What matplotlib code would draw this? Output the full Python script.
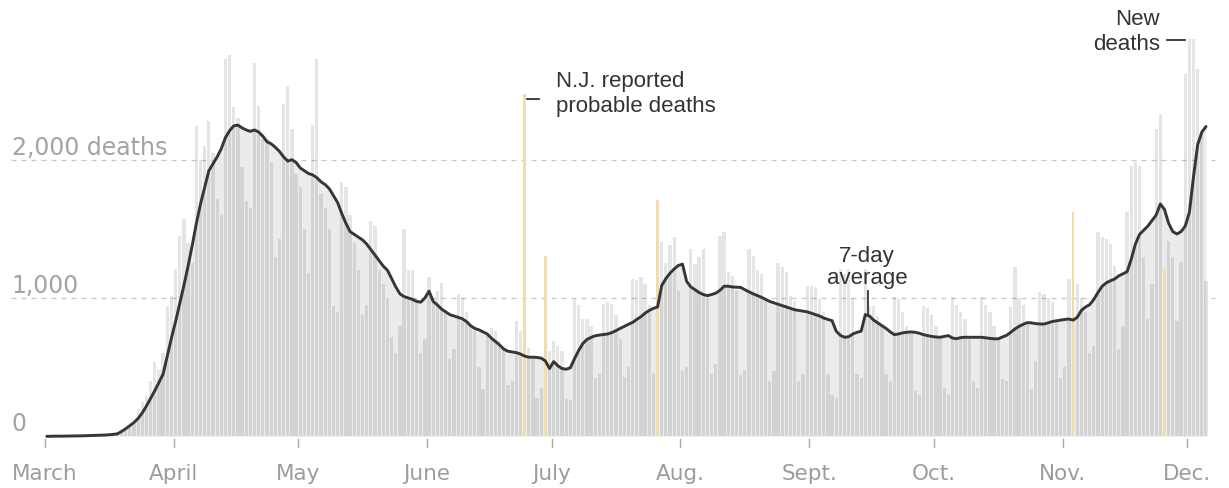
import matplotlib
matplotlib.use("Agg")
import matplotlib.pyplot as plt
import numpy as np

# ---------------- data ----------------
# daily new deaths, one value per day starting March 1
deaths = [
    0, 1, 1, 2, 1, 2, 3, 3, 4, 5,
    7, 9, 10, 12, 14, 18, 24, 30, 45, 55,
    60, 90, 200, 250, 290, 400, 540, 480, 600, 942,
    1015, 1210, 1450, 1570, 1400, 1250, 2245, 2000, 2100, 2280,
    2050, 1716, 1600, 2728, 2760, 2380, 2300, 1950, 1700, 1650,
    2700, 2390, 2150, 2150, 1980, 1300, 1430, 2400, 2530, 2220,
    1900, 1800, 1500, 1180, 2250, 2730, 1750, 1650, 1500, 944,
    900, 1840, 1800, 1600, 1400, 1200, 880, 950, 1560, 1520,
    1200, 1100, 1000, 720, 600, 800, 1500, 1200, 1200, 1000,
    600, 700, 1150, 1000, 1050, 1110, 900, 560, 630, 1030,
    1000, 900, 800, 760, 500, 340, 750, 780, 760, 690,
    650, 370, 400, 836, 760, 2475, 640, 560, 280, 350,
    1306, 620, 690, 650, 620, 270, 260, 990, 950, 850,
    850, 800, 420, 450, 960, 970, 960, 880, 700, 430,
    500, 1137, 1130, 1150, 1100, 950, 460, 1711, 1402, 1250,
    1380, 1438, 1053, 470, 500, 1354, 1245, 1300, 1354, 1000,
    450, 520, 1450, 1475, 1185, 1160, 1050, 440, 480, 1354,
    1306, 1200, 1173, 1000, 400, 470, 1250, 1221, 1185, 1017,
    980, 400, 450, 1089, 1089, 1080, 993, 900, 450, 300,
    280, 1209, 1170, 1209, 1000, 450, 420, 1209, 944, 944,
    870, 800, 450, 400, 1005, 990, 900, 800, 750, 330,
    300, 944, 930, 880, 800, 700, 350, 300, 1005, 950,
    900, 850, 700, 400, 350, 1005, 950, 900, 800, 700,
    414, 400, 937, 1225, 1000, 950, 820, 343, 546, 1041,
    1029, 1000, 970, 850, 420, 500, 1137, 1619, 1100, 1000,
    900, 600, 650, 1474, 1440, 1426, 1390, 1233, 631, 800,
    1619, 1957, 1981, 1957, 1300, 848, 1100, 2221, 2329, 1209,
    1414, 1300, 837, 1258, 2620, 2873, 2873, 2656, 2200, 1125,
]

# 7-day average line as drawn in the reference
avg7 = [
    0, 0, 1, 1, 1, 2, 2, 3, 3, 4,
    5, 6, 7, 8, 9, 11, 14, 18, 35, 55,
    77, 100, 130, 170, 220, 275, 330, 390, 450, 580,
    710, 830, 960, 1090, 1230, 1380, 1540, 1680, 1800, 1920,
    1970, 2020, 2080, 2160, 2210, 2245, 2250, 2230, 2215, 2205,
    2215, 2200, 2170, 2130, 2115, 2090, 2060, 2020, 1990, 2000,
    1980, 1940, 1920, 1900, 1890, 1870, 1840, 1820, 1790, 1740,
    1690, 1610, 1540, 1480, 1460, 1440, 1420, 1390, 1350, 1310,
    1270, 1230, 1200, 1140, 1080, 1030, 1010, 1000, 990, 975,
    970, 1000, 1050, 975, 950, 920, 900, 880, 870, 860,
    850, 830, 800, 780, 770, 755, 740, 710, 685, 660,
    630, 615, 610, 605, 595, 580, 572, 572, 570, 565,
    545, 490, 540, 510, 490, 485, 495, 560, 620, 670,
    700, 715, 727, 732, 736, 740, 750, 764, 780, 795,
    810, 824, 845, 865, 890, 910, 925, 935, 1090, 1140,
    1180, 1210, 1235, 1245, 1120, 1080, 1060, 1040, 1025, 1017,
    1025, 1035, 1055, 1085, 1085, 1080, 1078, 1077, 1060, 1045,
    1030, 1018, 1005, 990, 975, 965, 955, 945, 935, 925,
    915, 910, 905, 900, 890, 880, 870, 855, 845, 836,
    760, 730, 716, 720, 740, 752, 760, 880, 870, 840,
    820, 800, 780, 755, 735, 740, 748, 752, 755, 752,
    745, 735, 728, 722, 718, 716, 722, 728, 710, 706,
    714, 716, 716, 716, 716, 716, 712, 708, 705, 705,
    718, 730, 752, 776, 795, 810, 822, 820, 815, 812,
    812, 820, 830, 835, 840, 845, 848, 840, 860, 910,
    935, 952, 990, 1040, 1085, 1110, 1125, 1137, 1160, 1175,
    1190, 1280, 1390, 1460, 1490, 1520, 1560, 1600, 1680, 1640,
    1540, 1480, 1463, 1480, 1520, 1620, 1880, 2110, 2200, 2240,
]

# days (index from March 1) with reporting anomalies, drawn in orange
flagged_days = [115, 120, 147, 247, 269]

month_starts = [0, 31, 61, 92, 122, 153, 184, 214, 245, 275]
month_labels = ["March", "April", "May", "June", "July", "Aug.", "Sept.",
                "Oct.", "Nov.", "Dec."]

grid_values = [0, 1000, 2000]
grid_labels = ["0", "1,000", "2,000 deaths"]

# ---------------- figure ----------------
W, H, DPI = 1229, 489, 100
fig = plt.figure(figsize=(W / DPI, H / DPI), dpi=DPI)
ax = fig.add_axes([0, 0, 1, 1])
ax.set_axis_off()

# pixel geometry of reference
PX_PER_DAY = 4.155
X0 = 44.7          # pixel x of March 1 tick
Y0 = 437.3         # pixel y of zero line
PX_PER_UNIT = 0.1383

ax.set_xlim(-X0 / PX_PER_DAY, (W - X0) / PX_PER_DAY)
ax.set_ylim(-(H - Y0) / PX_PER_UNIT, Y0 / PX_PER_UNIT)

def px_to_data(px, py):
    return (px - X0) / PX_PER_DAY, (Y0 - py) / PX_PER_UNIT

n = len(deaths)
x = np.arange(n) + 0.5
vals = np.array(deaths, dtype=float)
avg = np.array(avg7, dtype=float)
flag = np.zeros(n, dtype=bool)
flag[flagged_days] = True

# gridlines (behind)
gx0, _ = px_to_data(11, 0)
gx1, _ = px_to_data(1215, 0)
for gv in grid_values[1:]:
    ax.plot([gx0, gx1], [gv, gv], color="#c8c8c8", lw=0.9,
            dashes=(4, 4), zorder=1)

# shaded area under average line
ax.fill_between(x, 0, avg, color="#ebebeb", lw=0, zorder=2)

# daily bars
ax.bar(x[~flag], vals[~flag], width=0.78, color="black", alpha=0.10,
       lw=0, zorder=3)
ax.bar(x[flag], vals[flag], width=0.55, color="#f4dcaa", lw=0, zorder=3)

# 7-day average
ax.plot(x, avg, color="#363636", lw=2.1, solid_capstyle="round",
        solid_joinstyle="round", zorder=5)

# y labels
lx, _ = px_to_data(11.5, 0)
for gv, gl in zip(grid_values, grid_labels):
    ax.text(lx, gv + 42, gl, ha="left", va="baseline", fontsize=17,
            color="#a3a3a3", family="DejaVu Sans", zorder=6)

# month ticks & labels
_, ty0 = px_to_data(0, 440)
_, ty1 = px_to_data(0, 448)
_, tly = px_to_data(0, 480)
for ms, ml in zip(month_starts, month_labels):
    ax.plot([ms, ms], [ty0, ty1], color="#a8a8a8", lw=1.0, zorder=6)
    ax.text(ms, tly, ml, ha="center", va="baseline", fontsize=15.5,
            color="#9c9c9c", family="DejaVu Sans")

ann = dict(fontsize=16, color="#333333", family="Liberation Sans",
           va="baseline", zorder=7)

# N.J. annotation
tx, ty = px_to_data(556, 87)
ax.text(tx, ty, "N.J. reported", ha="left", **ann)
tx, ty = px_to_data(556, 112)
ax.text(tx, ty, "probable deaths", ha="left", **ann)
dx0, dy = px_to_data(527, 100)
dx1, _ = px_to_data(539, 100)
ax.plot([dx0, dx1], [dy, dy], color="#333333", lw=1.3, zorder=7)

# 7-day average annotation
tx, ty = px_to_data(867, 262)
ax.text(tx, ty, "7-day", ha="center", **ann)
tx, ty = px_to_data(867, 284)
ax.text(tx, ty, "average", ha="center", **ann)
vx, vy0 = px_to_data(868, 292)
_, vy1 = px_to_data(868, 316)
ax.plot([vx, vx], [vy0, vy1], color="#333333", lw=1.3, zorder=7)

# New deaths annotation
tx, ty = px_to_data(1160, 25)
ax.text(tx, ty, "New", ha="right", **ann)
tx, ty = px_to_data(1160, 50)
ax.text(tx, ty, "deaths", ha="right", **ann)
dx0, dy = px_to_data(1167, 41)
dx1, _ = px_to_data(1185, 41)
ax.plot([dx0, dx1], [dy, dy], color="#333333", lw=1.3, zorder=7)

fig.savefig("out.png", dpi=DPI, facecolor="white")
